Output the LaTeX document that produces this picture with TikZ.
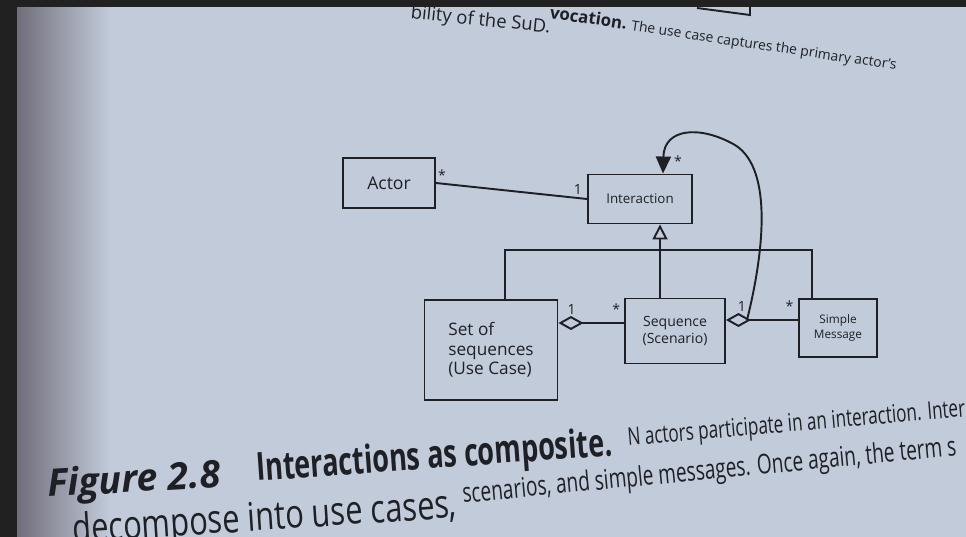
\documentclass[tikz,border=0pt]{standalone}
\usepackage{fontspec}
\setmainfont{Open Sans}
\newfontfamily\narrowfont[FakeStretch=0.78]{Open Sans}
\newfontfamily\condfont[FakeStretch=0.7]{Open Sans}
\usetikzlibrary{arrows.meta}
\definecolor{frame}{RGB}{33,33,34}
\definecolor{paper}{RGB}{194,203,218}
\definecolor{paperlight}{RGB}{214,221,232}
\definecolor{papershade}{RGB}{112,110,122}
\definecolor{ink}{RGB}{30,32,38}
\tikzstyle{classbox} = [rectangle, draw=ink, line width=1.1pt, text=ink, align=center, inner sep=2pt]
\tikzstyle{assoc} = [draw=ink, line width=1.1pt]
\tikzstyle{inherit} = [assoc, arrows={-Triangle[open, length=0.3cm, width=0.3cm]}]
\tikzstyle{aggregate} = [assoc, arrows={Diamond[open, length=0.5cm, width=0.28cm]-}]
\tikzstyle{navigate} = [assoc, arrows={-Triangle[length=0.34cm, width=0.3cm]}]
\tikzstyle{mult} = [text=ink, font=\fontsize{8}{9}\selectfont, inner sep=1.5pt]
\tikzstyle{pagetext} = [text=ink, anchor=base west, inner sep=0pt]
\begin{document}
\begin{tikzpicture}[x=0.02cm, y=-0.02cm]
\useasboundingbox (0,0) rectangle (966,537);
\fill[frame] (0,0) rectangle (966,537);
\shade[left color=paper, middle color=paperlight, right color=paper] (17,7) rectangle (966,537);
\shade[left color=papershade, right color=paper] (17,7) rectangle (110,537);

% text of the page round the figure
\node (prevline) [pagetext, anchor=base east, rotate=-6, font=\fontsize{10.5}{12}\selectfont] at (550,33) {bility of the SuD.};
\node (prevnote) [pagetext, rotate=-8.5, font=\fontsize{7.9}{10}\selectfont] at (549,18) {{\fontsize{9.6}{12}\selectfont\bfseries vocation.} The use case captures the primary actor's};
\draw[assoc] (697,8) -- (750,15) -- (750,0);

\node (figno) [pagetext, rotate=3.3, font=\bfseries\itshape\fontsize{21.5}{24}\selectfont] at (48,497) {Figure 2.8};
\node (figtitle) [pagetext, rotate=4.1, font=\condfont\bfseries\fontsize{22}{24}\selectfont] at (257,481) {Interactions as composite.};
\node (figtext) [pagetext, rotate=5, font=\condfont\fontsize{13.9}{15}\selectfont] at (628,446) {N actors participate in an interaction. Inter};
\node (figline) [pagetext, rotate=3.8, font=\narrowfont\fontsize{22.5}{24}\selectfont] at (73,543) {decompose into use cases,};
\node (figlinetwo) [pagetext, rotate=5.5, font=\condfont\fontsize{15.5}{17}\selectfont] at (463,503) {scenarios, and simple messages. Once again, the term s};

% classes
\node (actor) [classbox, minimum width=1.84cm, minimum height=1.0cm, font=\fontsize{10}{12}\selectfont] at (389,183) {Actor};
\node (interaction) [classbox, minimum width=2.08cm, minimum height=0.98cm, font=\fontsize{7.6}{9}\selectfont] at (640,199) {Interaction};
\node (usecase) [classbox, minimum width=2.66cm, minimum height=2.0cm, align=left, font=\fontsize{9.8}{11}\selectfont] at (491,350) {Set of\\sequences\\(Use Case)};
\node (scenario) [classbox, minimum width=2.0cm, minimum height=1.3cm, font=\fontsize{8}{9.6}\selectfont] at (675,331) {Sequence\\(Scenario)};
\node (message) [classbox, minimum width=1.56cm, minimum height=1.16cm, font=\fontsize{6.7}{8.5}\selectfont] at (838,328) {Simple\\Message};

\coordinate (stem) at (660,250);
\coordinate (barleft) at (505,250);
\coordinate (barright) at (812,250);
\coordinate (aggone) at (600,323);
\coordinate (aggtwo) at (760,320);
\coordinate (looptail) at (747,320);
\coordinate (loophead) at (663,0);

\draw [assoc] (actor.east) -- node [mult, pos=0.04, above] {*} node [mult, pos=0.94, above] {1} (interaction.west);
\draw [inherit] (scenario.north -| stem) -- (interaction.south -| stem);
\draw [assoc] (usecase.north -| barleft) -- (barleft) -- (barright) -- (message.north -| barright);
\draw [aggregate] (usecase.east |- aggone) -- node [mult, pos=0.2, above=3pt] {1} node [mult, pos=0.88, above=3pt] {*} (scenario.west |- aggone);
\draw [aggregate] (scenario.east |- aggtwo) -- node [mult, pos=0.22, above=3pt] {1} node [mult, pos=0.88, above=3pt] {*} (message.west |- aggtwo);
\draw [navigate] (looptail) .. controls (762,260) and (775,170) .. (735,145) .. controls (700,125) and (664,128) .. (interaction.north -| loophead) node [mult, at end, xshift=8.5pt, yshift=6.8pt] {*};

\fill[frame] (0,0) rectangle (966,7);
\fill[frame] (0,0) rectangle (17,537);
\end{tikzpicture}
\end{document}
